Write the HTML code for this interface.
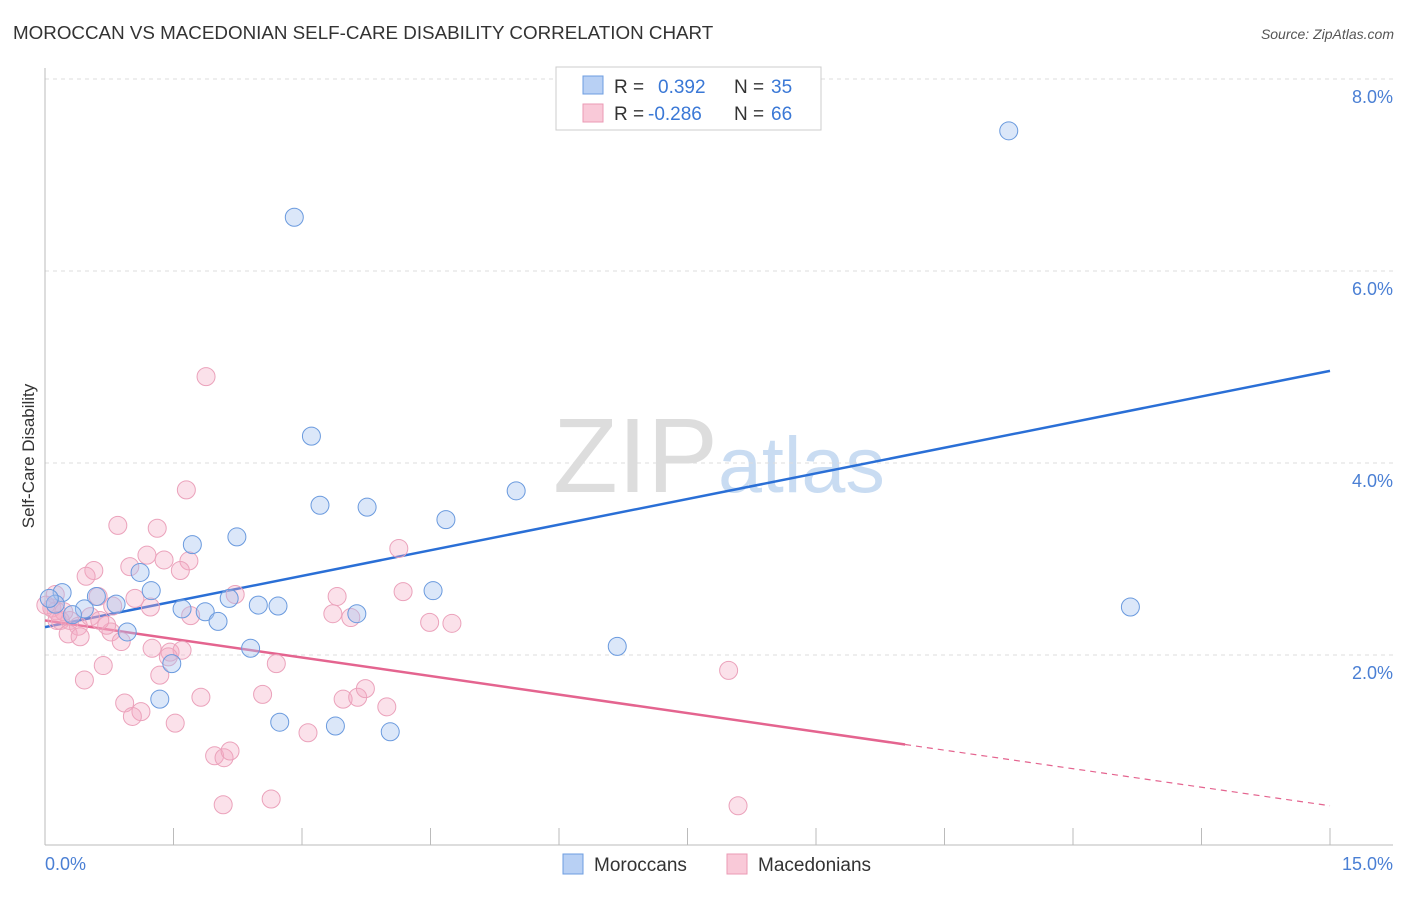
<!DOCTYPE html>
<html><head><meta charset="utf-8"><style>
body{margin:0;background:#fff;font-family:"Liberation Sans",sans-serif;}
svg text{font-family:"Liberation Sans",sans-serif;}
</style></head><body>
<svg id="chart" width="1406" height="892" xmlns="http://www.w3.org/2000/svg">
<text x="13" y="39" font-size="18.8" fill="#333">MOROCCAN VS MACEDONIAN SELF-CARE DISABILITY CORRELATION CHART</text>
<text x="1394" y="39" font-size="14" font-style="italic" fill="#555" text-anchor="end">Source: ZipAtlas.com</text>
<g>
<text x="553" y="492" font-size="106" font-family="Liberation Serif,serif" fill="#ddd">ZIP</text>
<text x="718" y="492" font-size="79" fill="#c9dcf2">atlas</text>
</g>
<g id="grid"></g>
<g id="axes"></g>
<g id="lines"></g>
<g id="points"></g>
<text transform="translate(34,456) rotate(-90)" font-size="17" fill="#333" text-anchor="middle">Self-Care Disability</text>
<g>
<rect x="556" y="67" width="265" height="63" fill="#fff" stroke="#ccc"/>
<rect x="583" y="76" width="20" height="18" fill="#b8d0f4" stroke="#6d9de0"/>
<rect x="583" y="104" width="20" height="18" fill="#f9c9d8" stroke="#eb9ab4"/>
<text x="614" y="93" font-size="19" fill="#333">R =</text>
<text x="658" y="93" font-size="19" fill="#3a78d6">0.392</text>
<text x="734" y="93" font-size="19" fill="#333">N =</text>
<text x="771" y="93" font-size="19" fill="#3a78d6">35</text>
<text x="614" y="120" font-size="19" fill="#333">R =</text>
<text x="648" y="120" font-size="19" fill="#3a78d6">-0.286</text>
<text x="734" y="120" font-size="19" fill="#333">N =</text>
<text x="771" y="120" font-size="19" fill="#3a78d6">66</text>
</g>
<g>
<rect x="563" y="854" width="20" height="20" fill="#b8d0f4" stroke="#6d9de0"/>
<text x="594" y="871" font-size="19" fill="#333">Moroccans</text>
<rect x="727" y="854" width="20" height="20" fill="#f9c9d8" stroke="#eb9ab4"/>
<text x="758" y="871" font-size="19" fill="#333">Macedonians</text>
</g>
</svg>
<script>
const yTicks=[2,4,6,8];
const yTickLabels=["2.0%","4.0%","6.0%","8.0%"];
const xTickLabels=["0.0%","15.0%"];
const blueX=[11.25,2.91,3.11,3.21,3.76,4.68,5.50,2.24,1.72,1.11,1.24,4.53,2.15,2.49,2.72,1.60,1.87,2.02,3.64,0.83,0.60,0.46,0.32,0.20,0.12,0.05,0.96,2.40,1.48,1.34,2.74,3.39,4.03,6.68,12.67];
const blueY=[7.46,6.56,4.28,3.56,3.54,3.41,3.71,3.23,3.15,2.86,2.67,2.67,2.59,2.52,2.51,2.48,2.45,2.35,2.43,2.53,2.61,2.48,2.42,2.65,2.53,2.59,2.24,2.07,1.91,1.54,1.30,1.26,1.20,2.09,2.50];
const pinkX=[1.88,1.65,0.85,1.31,1.19,1.39,1.68,0.99,0.57,0.48,1.58,4.13,2.22,1.05,0.62,1.23,0.79,1.70,3.41,4.18,3.36,3.57,4.49,4.75,0.12,0.08,0.18,0.29,0.39,0.27,0.41,0.77,0.72,0.89,1.25,1.46,1.60,1.44,2.70,0.68,1.34,0.46,7.98,1.82,2.54,0.93,1.12,1.02,1.52,3.48,3.65,3.74,3.99,3.07,1.98,2.09,2.16,2.08,2.64,8.09,0.13,0.22,0.01,0.53,0.64,0.14];
const pinkY=[4.90,3.72,3.35,3.32,3.04,2.99,2.98,2.92,2.88,2.82,2.88,3.11,2.63,2.59,2.61,2.50,2.51,2.41,2.61,2.66,2.43,2.39,2.34,2.33,2.63,2.49,2.36,2.36,2.30,2.22,2.19,2.24,2.31,2.14,2.07,2.03,2.05,1.98,1.91,1.89,1.79,1.74,1.84,1.56,1.59,1.50,1.41,1.36,1.29,1.54,1.56,1.65,1.46,1.19,0.95,0.93,1.00,0.44,0.50,0.43,2.46,2.45,2.52,2.40,2.36,2.36];
const blueTrend=[2.29,0.178];
const pinkTrend=[2.36,-0.1287];
const pinkSolidEnd=10.04;
const X0=45,X1=1330,XMAX=15,Y0=847,YS=96;
const sx=v=>X0+(v/XMAX)*(X1-X0);
const sy=v=>Y0-v*YS;
const NS="http://www.w3.org/2000/svg";
function mk(tag,attrs,parent){const e=document.createElementNS(NS,tag);for(const k in attrs)e.setAttribute(k,attrs[k]);parent.appendChild(e);return e;}
const grid=document.getElementById('grid'),axes=document.getElementById('axes'),lines=document.getElementById('lines'),pts=document.getElementById('points');
yTicks.forEach((t,i)=>{
  const l=mk('line',{x1:45,x2:1393,y1:sy(t),y2:sy(t),stroke:'#ddd','stroke-dasharray':'4,4'},grid);
  
  
  const tx=mk('text',{x:1393,y:sy(t)+24,'font-size':18,fill:'#4a7fd4','text-anchor':'end'},axes);
  tx.textContent=yTickLabels[i];
  
  
});
let a=mk('line',{x1:45,x2:45,y1:68,y2:845,stroke:'#bbb'},axes);


a=mk('line',{x1:45,x2:1393,y1:845,y2:845,stroke:'#bbb'},axes);


for(let i=1;i<=10;i++){
  const t=mk('line',{x1:sx(i*1.5),x2:sx(i*1.5),y1:828,y2:845,stroke:'#bbb'},axes);
  
  
}
let xl=mk('text',{x:45,y:870,'font-size':18,fill:'#4a7fd4'},axes);xl.textContent=xTickLabels[0];


xl=mk('text',{x:1393,y:870,'font-size':18,fill:'#4a7fd4','text-anchor':'end'},axes);xl.textContent=xTickLabels[1];


function pt(x,y,fill,stroke,name){
  const c=mk('circle',{cx:sx(x),cy:sy(y),r:9,fill:fill,stroke:stroke,'stroke-width':1},pts);
  
  
}
pinkX.forEach((x,i)=>pt(x,pinkY[i],'rgba(244,170,195,0.35)','#eba2bb','macedonian-point'));
blueX.forEach((x,i)=>pt(x,blueY[i],'rgba(164,194,240,0.4)','#6a9ade','moroccan-point'));
let bl=mk('line',{x1:sx(0),y1:sy(blueTrend[0]),x2:sx(15),y2:sy(blueTrend[0]+blueTrend[1]*15),stroke:'#2a6fd6','stroke-width':2.5},lines);


let pl=mk('line',{x1:sx(0),y1:sy(pinkTrend[0]),x2:sx(pinkSolidEnd),y2:sy(pinkTrend[0]+pinkTrend[1]*pinkSolidEnd),stroke:'#e4648f','stroke-width':2.5},lines);


let pd=mk('line',{x1:sx(pinkSolidEnd),y1:sy(pinkTrend[0]+pinkTrend[1]*pinkSolidEnd),x2:sx(15),y2:sy(pinkTrend[0]+pinkTrend[1]*15),stroke:'#e4648f','stroke-width':1.2,'stroke-dasharray':'6,5'},lines);


</script>
</body></html>
